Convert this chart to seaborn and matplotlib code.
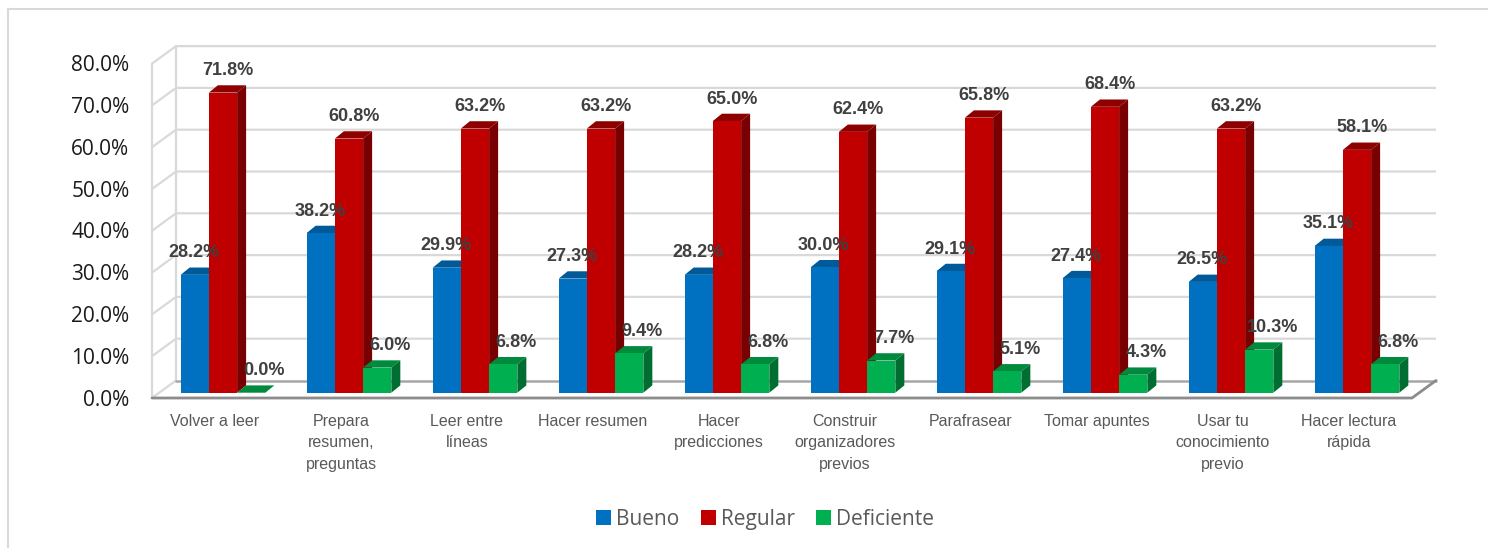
import pandas as pd
import seaborn as sns
import matplotlib.pyplot as plt
from matplotlib.lines import Line2D
from matplotlib.patches import Polygon
from matplotlib.transforms import ScaledTranslation

categorias = ['Volver a leer', 'Prepara\nresumen,\npreguntas', 'Leer entre\nlíneas', 'Hacer resumen',
              'Hacer\npredicciones', 'Construir\norganizadores\nprevios', 'Parafrasear', 'Tomar apuntes',
              'Usar tu\nconocimiento\nprevio', 'Hacer lectura\nrápida']
bueno = [28.2, 38.2, 29.9, 27.3, 28.2, 30.0, 29.1, 27.4, 26.5, 35.1]
regular = [71.8, 60.8, 63.2, 63.2, 65.0, 62.4, 65.8, 68.4, 63.2, 58.1]
deficiente = [0.0, 6.0, 6.8, 9.4, 6.8, 7.7, 5.1, 4.3, 10.3, 6.8]
niveles = ['Bueno', 'Regular', 'Deficiente']
ticks = [0, 10, 20, 30, 40, 50, 60, 70, 80]

colores = ['#0070C0', '#C00000', '#00B050']
tapas = ['#005A9A', '#8E0000', '#008A3E']
lados = ['#004E86', '#780000', '#006E30']

W, H = 1488, 548
PX_CAT = 126.0   # pixels per category
PX_PCT = 4.18    # pixels per percent
DX, DY = 9.0 / PX_CAT, 7.3 / PX_PCT  # depth of the bars

df = pd.DataFrame({'Estrategia': categorias * 3,
                   'Nivel': [n for n in niveles for _ in categorias],
                   'Valor': bueno + regular + deficiente})

sns.set_theme(style='white')
plt.rcParams['font.family'] = ['Open Sans', 'DejaVu Sans']

fig = plt.figure(figsize=(W / 100, H / 100), dpi=100)
ax = fig.add_axes([160 / W, (H - 392.7) / H, 1260 / W, 334.4 / H])

sns.barplot(data=df, x='Estrategia', y='Valor', hue='Nivel', hue_order=niveles, palette=colores,
            width=0.672, saturation=1, linewidth=0, edgecolor='none', ax=ax)
ax.set_xlim(-0.5, 9.5)
ax.set_ylim(0, 80)
ax.set_xlabel('')
ax.set_ylabel('')
sns.despine(ax=ax, left=True, bottom=True)

# 3D faces and labels of every bar
desplaza = [-1, 5, 13]
for h, cont in enumerate(ax.containers):
    for rect in cont:
        x0, x1, v = rect.get_x(), rect.get_x() + rect.get_width(), rect.get_height()
        rect.set_zorder(4 + 2 * h)
        ax.add_patch(Polygon([(x0, v), (x1, v), (x1 + DX, v + DY), (x0 + DX, v + DY)],
                             fc=tapas[h], ec='none', zorder=3 + 2 * h, clip_on=False))
        ax.add_patch(Polygon([(x1, 0), (x1 + DX, DY), (x1 + DX, v + DY), (x1, v)],
                             fc=lados[h], ec='none', zorder=3 + 2 * h, clip_on=False))
        ax.text((x0 + x1) / 2 + desplaza[h] / PX_CAT, v + 22 / PX_PCT, f'{v:.1f}%', ha='center', va='center',
                family=['Liberation Sans'], fontweight='bold', fontsize=13,
                color='#404040', zorder=20)

# walls and floor
xl_f, xl_b = -0.5 - 8 / PX_CAT, -0.5 + 16 / PX_CAT
xr_f, xr_b = 9.5 - 8 / PX_CAT, 9.5 + 16 / PX_CAT
front, back = -5.3 / PX_PCT, 12.2 / PX_PCT
for t in ticks:
    if t == 0:
        continue
    ax.plot([xl_f, xl_b, xr_b], [t + front, t + back, t + back], color='#D9D9D9', lw=1.6, zorder=1,
            clip_on=False, solid_capstyle='butt')
ax.plot([xl_f, xl_f], [front, 80 + front], color='#D9D9D9', lw=1.6, zorder=1, clip_on=False)
ax.plot([xl_b, xl_b], [back, 80 + back], color='#D9D9D9', lw=1.6, zorder=1, clip_on=False)
ax.plot([xl_f, xl_b], [front, back], color='#D9D9D9', lw=1.6, zorder=1, clip_on=False)
ax.plot([xl_b, xr_b], [back, back], color='#A6A6A6', lw=1.8, zorder=2, clip_on=False)
ax.plot([xl_f, xr_f, xr_b], [front, front, back], color='#8C8C8C', lw=2, zorder=2, clip_on=False)

ax.tick_params(axis='y', length=0, pad=22)
ax.tick_params(axis='x', length=0, pad=15)
ax.set_yticks(ticks)
ax.set_yticklabels([f'{t:.1f}%' for t in ticks], fontsize=15, color='#1A1A1A')
for lab in ax.get_yticklabels():
    lab.set_transform(lab.get_transform() + ScaledTranslation(0, -5 / 100, fig.dpi_scale_trans))
ax.set_xticks(range(len(categorias)))
ax.set_xticklabels(categorias, family=['Liberation Sans'], fontsize=11.5,
                   color='#595959', linespacing=1.55)
for lab in ax.get_xticklabels():
    lab.set_transform(lab.get_transform() + ScaledTranslation(-8 / 100, 0, fig.dpi_scale_trans))

handles, labels = ax.get_legend_handles_labels()
ax.legend(handles, labels, loc='center', bbox_to_anchor=(765 / W, (H - 519.5) / H),
          bbox_transform=fig.transFigure, ncol=3, frameon=False, fontsize=15, labelcolor='#595959',
          handlelength=0.72, handleheight=0.72, handletextpad=0.25, columnspacing=1.0)

# chart area border
fig.add_artist(Line2D([8 / W, 8 / W], [0, (H - 9) / H], color='#D9D9D9', lw=1.5))
fig.add_artist(Line2D([8 / W, 1], [(H - 9) / H, (H - 9) / H], color='#D9D9D9', lw=1.5))

fig.savefig('out.png', dpi=100)
